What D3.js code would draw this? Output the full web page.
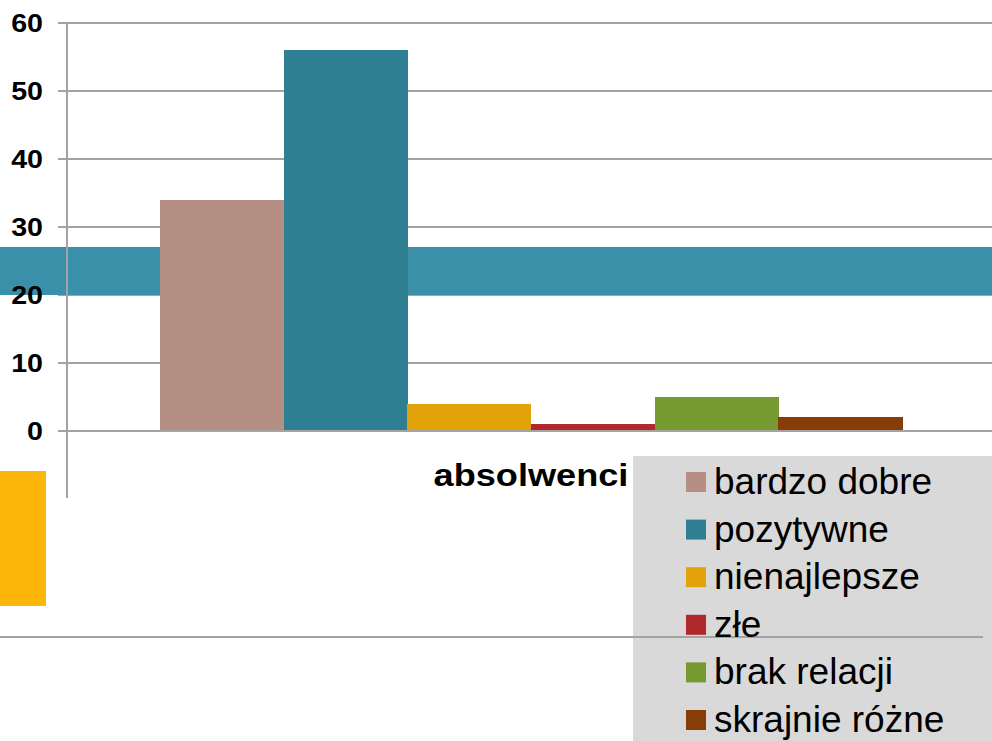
<!DOCTYPE html>
<html>
<head>
<meta charset="utf-8">
<script src="https://cdn.jsdelivr.net/npm/d3@7"></script>
<style>
  body { margin: 0; background: #fff; }
  svg { display: block; font-family: "Liberation Sans", Arial, sans-serif; }
</style>
</head>
<body>
<div id="container"></div>
<script>
const width = 992;
const height = 741;

// data
const categories = ["absolwenci"];
const series = ["bardzo dobre", "pozytywne", "nienajlepsze", "złe", "brak relacji", "skrajnie różne"];
const values = [34, 56, 4, 1, 5, 2];
const colors = ["#B58F84", "#2F7F93", "#E2A30A", "#B0282C", "#779A30", "#873D08"];
const yTicks = [0, 10, 20, 30, 40, 50, 60];

const svg = d3.select("#container")
	.append("svg")
	.attr("width", width)
	.attr("height", height);

// scales
const y = d3.scaleLinear().domain([0, 60]).range([431, 23]);
const x0 = d3.scaleBand().domain(categories).range([67, 995])
	.paddingInner(0.2).paddingOuter(0.1);
const x1 = d3.scaleBand().domain(series).range([0, x0.bandwidth()]);

// gridlines
svg.append("g")
	.selectAll("line")
	.data(yTicks.filter(d => d > 0))
	.enter()
	.append("line")
	.attr("x1", 58).attr("x2", width)
	.attr("y1", d => y(d)).attr("y2", d => y(d))
	.attr("stroke", "#a3a3a3")
	.attr("stroke-width", 2);

// decorative band across the plot
svg.append("rect")
	.attr("x", 0).attr("y", 247)
	.attr("width", width).attr("height", 48)
	.attr("fill", "#3A90A8");

// bars
const groups = svg.append("g")
	.attr("shape-rendering", "crispEdges")
	.selectAll("g")
	.data(categories)
	.enter()
	.append("g")
	.attr("transform", d => "translate(" + x0(d) + ",0)");

groups.selectAll("rect")
	.data(series.map((s, i) => ({ key: s, value: values[i], color: colors[i] })))
	.enter()
	.append("rect")
	.attr("x", d => x1(d.key))
	.attr("y", d => y(d.value))
	.attr("width", x1.bandwidth() + 0.5)
	.attr("height", d => y(0) - y(d.value))
	.attr("fill", d => d.color);

// y axis line and zero line
svg.append("line")
	.attr("x1", 67).attr("x2", 67)
	.attr("y1", y(60)).attr("y2", 498)
	.attr("stroke", "#a3a3a3").attr("stroke-width", 2);
svg.append("line")
	.attr("x1", 58).attr("x2", width)
	.attr("y1", y(0)).attr("y2", y(0))
	.attr("stroke", "#a3a3a3").attr("stroke-width", 2);

// tick labels
svg.append("g")
	.selectAll("text")
	.data(yTicks)
	.enter()
	.append("text")
	.attr("transform", d => "translate(43," + (y(d) + 9) + ")scale(1.1,1)")
	.attr("text-anchor", "end")
	.attr("font-size", 26)
	.attr("font-weight", "bold")
	.text(d => d);

// category label
svg.append("g")
	.selectAll("text")
	.data(categories)
	.enter()
	.append("text")
	.attr("transform", d => "translate(" + (x0(d) + x0.bandwidth() / 2) + ",486)scale(1.13,1)")
	.attr("text-anchor", "middle")
	.attr("font-size", 32)
	.attr("font-weight", "bold")
	.text(d => d);

// yellow block on the left
svg.append("rect")
	.attr("x", 0).attr("y", 471)
	.attr("width", 46).attr("height", 135)
	.attr("fill", "#FDB60B");

// legend
svg.append("rect")
	.attr("x", 633).attr("y", 456)
	.attr("width", width - 633).attr("height", height - 456)
	.attr("fill", "#D9D9D9");

svg.append("line")
	.attr("x1", 0).attr("x2", 983)
	.attr("y1", 637).attr("y2", 637)
	.attr("stroke", "#a3a3a3").attr("stroke-width", 2);

const legend = svg.append("g")
	.selectAll("g")
	.data(series)
	.enter()
	.append("g")
	.attr("transform", (d, i) => "translate(686," + (482 + i * 47.6) + ")");

legend.append("rect")
	.attr("x", 0).attr("y", -10)
	.attr("width", 20).attr("height", 20)
	.attr("fill", (d, i) => colors[i]);

legend.append("text")
	.attr("x", 28).attr("y", 12)
	.attr("font-size", 37)
	.attr("fill", "#000")
	.text(d => d);
</script>
</body>
</html>
